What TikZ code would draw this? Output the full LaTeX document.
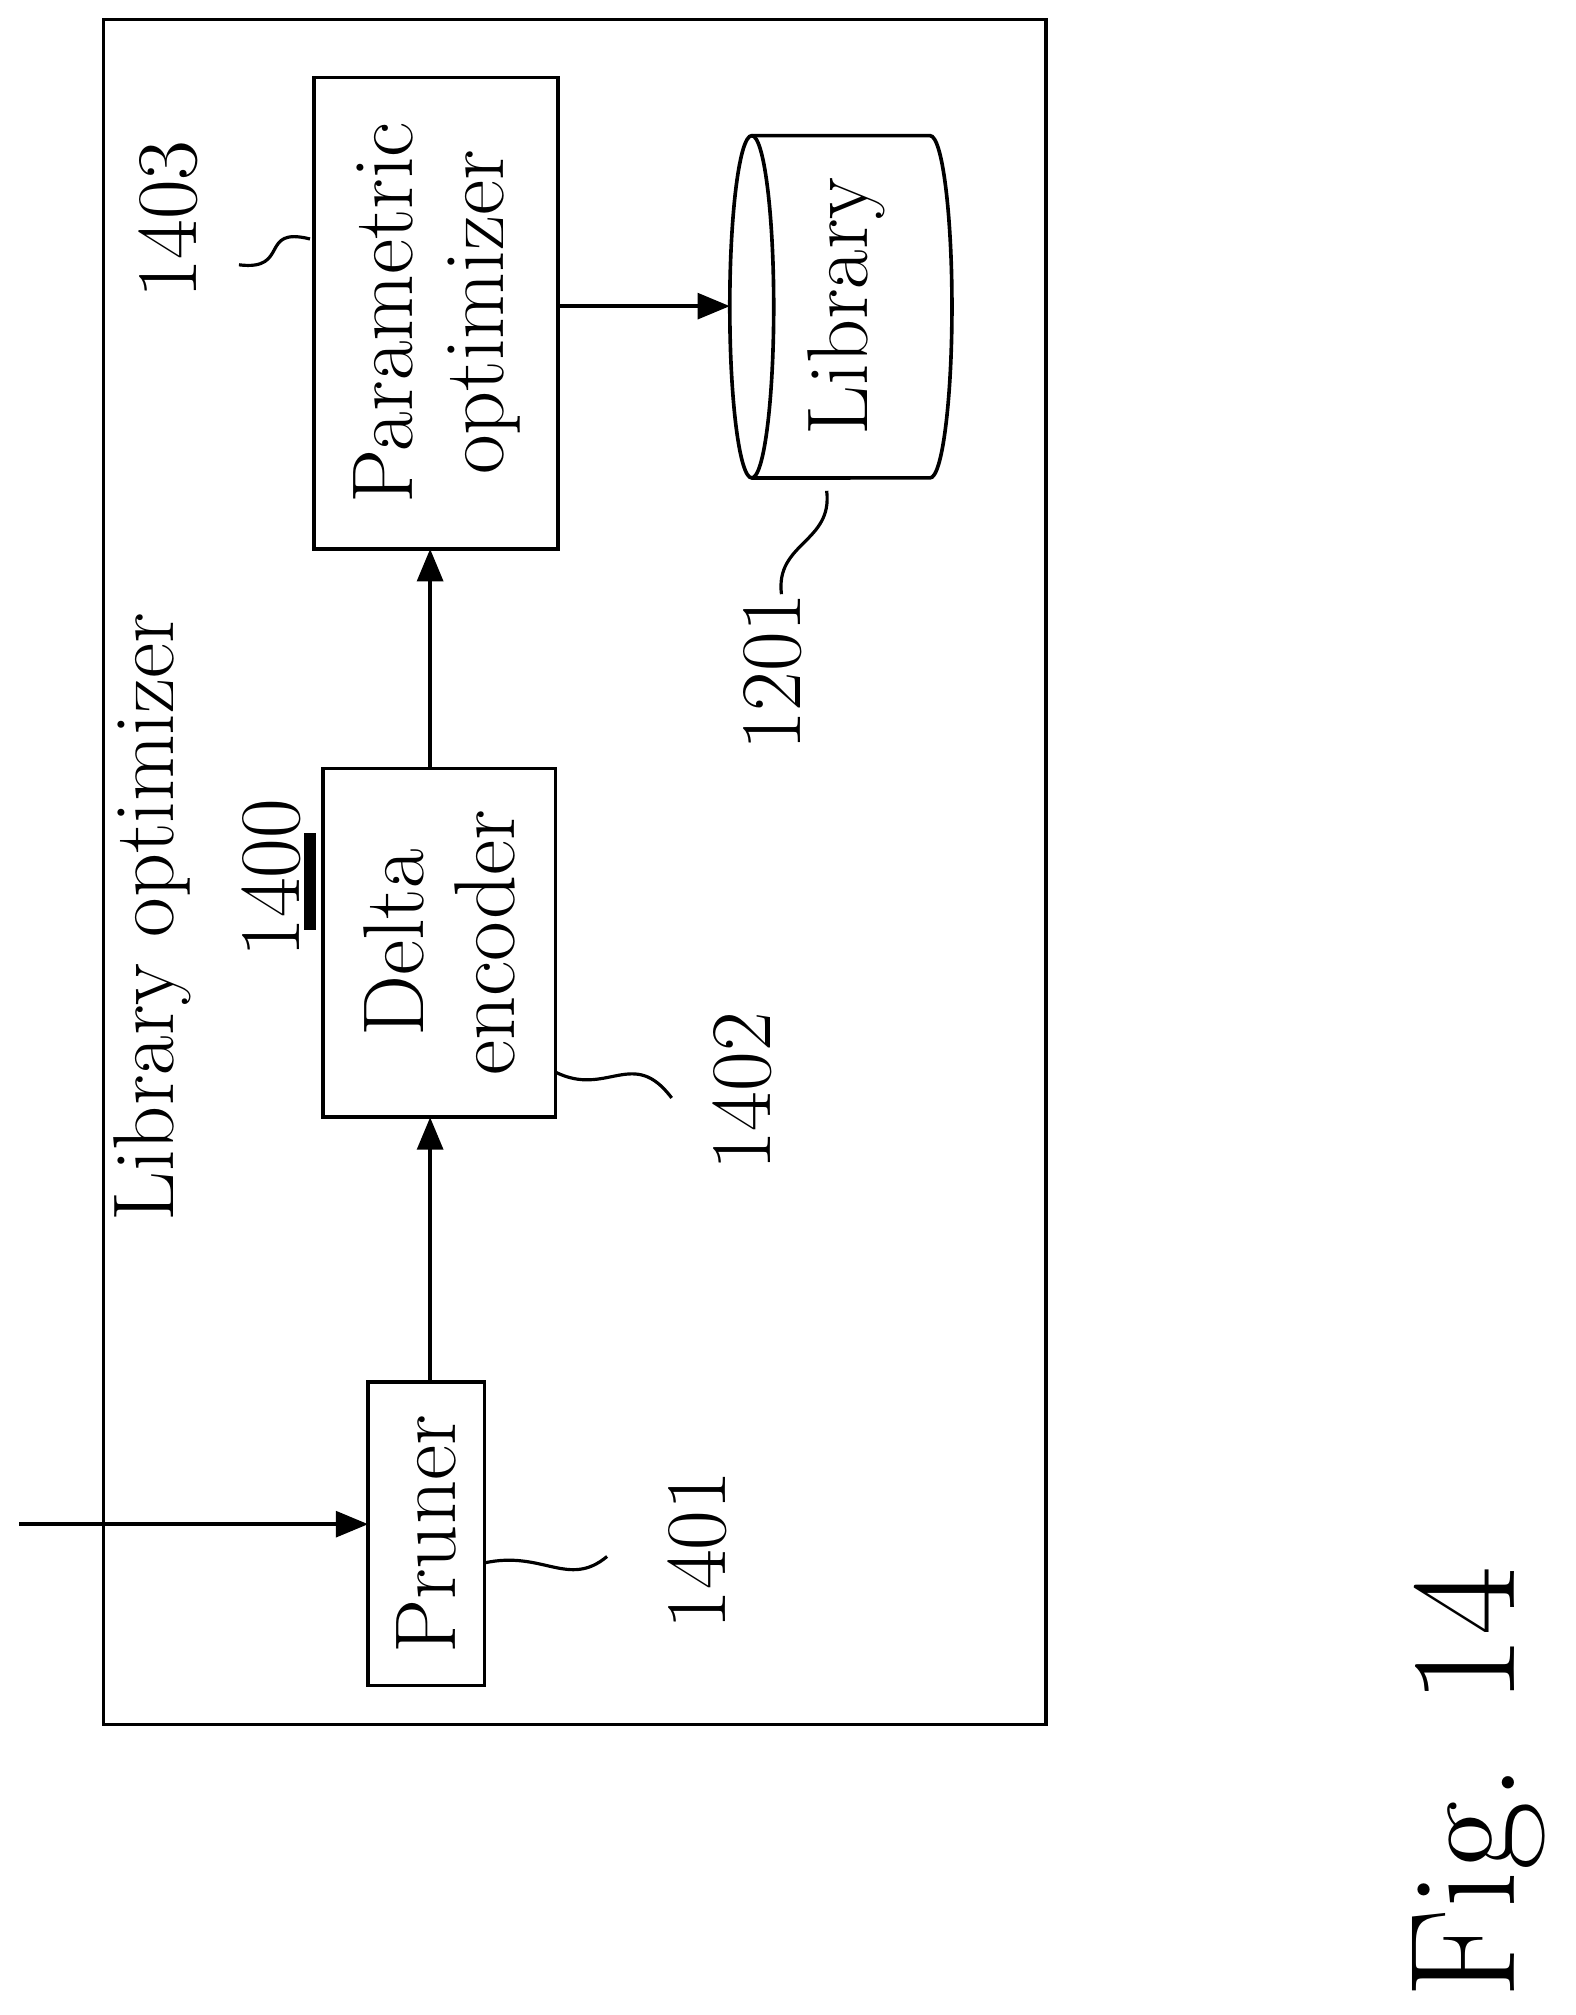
\documentclass[tikz,border=0pt]{standalone}
\usetikzlibrary{arrows.meta}
\tikzset{box/.style={line width=1.6pt},
lbl/.style={rotate=90,font=\fontsize{38}{40}\selectfont},
conn/.style={line width=1.6pt,-{Triangle[length=5mm,width=4mm]}},
squig/.style={line width=1.4pt}}
\begin{document}
\begin{tikzpicture}[x=0.2mm,y=-0.2mm]
\useasboundingbox (0,0) rectangle (1220,1560);
\draw[box] (80,15) rectangle (810,1335);
% blocks
\draw[box] (285,1070) rectangle (375,1305);
\node[lbl] (pru) at (330,1188) {Pruner};
\draw[box] (250,595) rectangle (430,865);
\node[lbl,align=center] (del) at (340,730) {Delta\\encoder};
\draw[box] (243,60) rectangle (432,425);
\node[lbl,align=center] (par) at (338,242) {Parametric\\optimizer};
% library cylinder
\draw[box] (582,105) arc[start angle=90,end angle=270,x radius=3.4mm,y radius=26.5mm]
  -- (720,370) arc[start angle=-90,end angle=90,x radius=3.4mm,y radius=26.5mm] -- cycle;
\draw[box] (582,105) arc[start angle=90,end angle=-90,x radius=3.4mm,y radius=26.5mm];
\node[lbl] (lib) at (655,237) {Library};
% connectors
\coordinate (in) at (15,1180);
\draw[conn] (in) -- (285,1180);
\draw[conn] (333,1070) -- (333,865);
\draw[conn] (333,595) -- (333,425);
\draw[conn] (432,237) -- (565,237);
% labels
\node[lbl] at (118,710) {Library optimizer};
\node[lbl] at (210,680) {1400};
\draw[line width=5pt] (240,645) -- (240,720);
\node[lbl] at (130,170) {1403};
\draw[squig] (240,185) .. controls (200,175) and (225,210) .. (185,205);
\node[lbl] at (540,1200) {1401};
\draw[squig] (375,1210) .. controls (420,1200) and (440,1230) .. (470,1205);
\node[lbl] at (575,845) {1402};
\draw[squig] (430,830) .. controls (470,850) and (490,810) .. (520,850);
\node[lbl] at (598,520) {1201};
\draw[squig] (605,460) .. controls (600,420) and (645,420) .. (640,380);
\node[rotate=90,font=\fontsize{66}{66}\selectfont] at (1145,1380) {Fig. 14};
\end{tikzpicture}
\end{document}
